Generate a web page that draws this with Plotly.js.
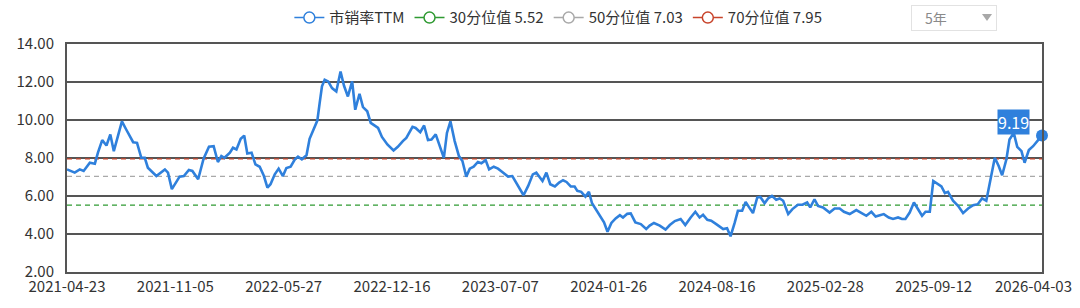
<!DOCTYPE html>
<html>
<head>
<meta charset="utf-8">
<script src="https://cdn.plot.ly/plotly-3.0.1.min.js"></script>
<style>
  html, body { margin: 0; padding: 0; background: #fff; }
  #wrap { position: relative; width: 1080px; height: 308px; }
  #chart { width: 1080px; height: 308px; }
  #sel { position: absolute; left: 911px; top: 5px; width: 86px; height: 26px; box-sizing: border-box;
         border: 1px solid #e2e2e2; background: #fff; font-family: "Noto Sans CJK SC", "Noto Sans", sans-serif;
         font-size: 14px; color: #8a8a8a; }
  #sel .t { position: absolute; left: 13px; top: 3px; line-height: 18px; }
  #sel .a { position: absolute; left: 70px; top: 8px; width: 0; height: 0;
            border-left: 5px solid transparent; border-right: 5px solid transparent; border-top: 7px solid #a8a8a8; }
</style>
</head>
<body>
<div id="wrap">
  <div id="chart"></div>
  <div id="sel"><span class="t">5年</span><span class="a"></span></div>
</div>
<script>
// Tick labels of the category axis (every 28th trading week)
const tickLabels = ['2021-04-23','2021-11-05','2022-05-27','2022-12-16','2023-07-07',
                    '2024-01-26','2024-08-16','2025-02-28','2025-09-12','2026-04-03'];
const tickStep = 28;

// Positions (week index on the category axis)
const weekPos = [0,2.0,3.3,4.3,5.9,7.2,8.0,9.1,10.2,11.2,12.1,14.2,15.3,17.1,18.1,19.2,20.1,20.9,23.1,25.3,26.1,27.1,29.1,30.2,31.5,32.4,33.9,35.3,36.7,37.9,39.0,39.9,40.7,42.1,
  42.9,43.8,44.9,45.8,46.6,47.7,48.7,49.8,50.9,51.8,52.6,53.7,54.7,55.8,56.7,57.8,58.9,59.7,60.7,61.9,62.7,63.8,64.7,65.3,65.9,66.6,67.5,68.5,69.6,70.7,71.6,72.6,73.7,74.5,75.6,76.5,77.6,78.5,80.4,81.4,82.8,
  84.4,85.5,86.8,87.7,89.3,90.1,91.3,92.3,93.3,94.2,95.3,96.2,97.4,98.2,99.1,100.2,101.3,102.2,103.2,104.1,105.1,106.2,107.1,108.2,109.1,110.3,111.4,112.5,114.0,115.1,116.6,118.0,119.2,120.4,121.3,122.9,123.9,124.9,126.1,127.2,
  128.2,129.1,130.2,131.2,131.9,132.9,134.0,134.9,135.7,137.3,138.8,139.7,140.7,141.8,142.9,143.7,144.8,145.7,146.9,148.3,149.7,150.6,151.7,153.2,154.7,155.8,157.1,158.6,159.8,161.2,162.4,163.5,164.4,165.5,166.5,167.8,168.9,
  169.6,170.6,171.5,172.6,173.4,174.5,175.4,176.3,177.3,178.4,179.2,180.3,181.2,182.2,183.3,184.2,185.1,186.4,187.5,188.9,190.1,191.3,192.1,193.2,194.1,195.4,197.1,198.4,199.7,200.8,202.3,204.0,205.6,206.6,207.9,209.0,210.1,211.1,
  212.4,213.5,214.8,215.8,216.7,217.8,218.9,220.0,221.0,221.9,223.0,223.9,225.0,226.0,226.9,227.7,229.0,230.3,231.6,232.9,234.2,235.4,236.5,237.6,238.7,239.8,240.8,241.7,242.8,243.6,244.7,245.6,246.7,247.5,248.6,249.7,252];

// 市销率TTM values
const psTTM = [7.40,7.23,7.40,7.32,7.75,7.70,8.28,8.94,8.66,9.24,8.36,9.93,9.50,8.83,8.80,8.01,8.01,7.49,7.05,7.40,7.23,6.36,7.02,7.05,7.37,7.32,6.88,7.96,8.59,8.62,7.79,8.10,8.01,8.28,
  8.54,8.45,9.01,9.18,8.24,8.28,7.66,7.54,7.05,6.44,6.62,7.14,7.44,7.05,7.47,7.54,7.93,8.07,7.93,8.14,9.01,9.50,9.97,10.89,11.77,12.12,12.03,11.68,11.50,12.55,11.80,11.24,12.03,10.54,11.38,10.68,10.46,9.85,9.58,9.11,8.71,
  8.40,8.59,8.89,9.06,9.64,9.58,9.36,9.71,8.94,8.97,9.24,8.71,8.01,9.32,9.93,8.89,8.10,7.84,7.02,7.44,7.54,7.79,7.72,7.89,7.40,7.54,7.44,7.26,7.02,7.05,6.53,6.04,6.53,7.14,7.23,6.79,7.23,6.62,6.50,6.71,
  6.83,6.74,6.50,6.50,6.27,6.22,5.97,6.22,5.62,5.13,4.61,4.12,4.58,4.82,4.99,4.87,5.06,5.08,4.61,4.52,4.26,4.44,4.58,4.44,4.23,4.47,4.68,4.79,4.47,4.87,5.17,4.87,5.01,4.75,4.70,4.52,4.35,
  4.26,4.30,3.88,4.61,5.22,5.22,5.69,5.40,5.10,5.92,5.95,5.62,5.87,6.01,5.80,5.87,5.75,5.05,5.31,5.54,5.54,5.66,5.40,5.83,5.48,5.40,5.13,5.34,5.34,5.17,5.05,5.26,5.05,4.96,5.17,4.92,4.99,5.05,
  4.87,4.79,4.87,4.79,4.79,5.13,5.66,5.27,4.96,5.17,5.17,6.79,6.62,6.50,6.15,6.22,5.75,5.48,5.10,5.34,5.52,5.57,5.87,5.75,6.88,8.01,7.58,7.09,7.93,8.97,9.32,8.59,8.36,7.75,8.42,8.62,9.19];

// Percentile levels
const pctNames = ['30分位值 5.52','50分位值 7.03','70分位值 7.95'];
const pctValues = [5.52, 7.03, 7.95];
const pctColors = ['#2f9a32','#a9a9a9','#c8442b'];
const mainName = '市销率TTM';
const mainColor = '#2f80dc';
const latestLabel = '9.19';

const xMax = (tickLabels.length - 1) * tickStep;
const tickVals = tickLabels.map((_, k) => k * tickStep);
const font = '"Noto Sans CJK SC", "Noto Sans", sans-serif';
const fs = 15;

const traces = [];
// percentile dashed lines
pctValues.forEach((v, k) => {
  traces.push({x: [0, xMax], y: [v, v], mode: 'lines', showlegend: false, hoverinfo: 'skip',
               line: {color: pctColors[k], width: 1.3, dash: '5px,4px'}});
});
// main line
traces.push({x: weekPos, y: psTTM, mode: 'lines', name: mainName, showlegend: false,
             line: {color: mainColor, width: 2.6}});
// latest point dot
traces.push({x: [weekPos[weekPos.length-1]], y: [psTTM[psTTM.length-1]], mode: 'markers', showlegend: false,
             marker: {color: mainColor, size: 12}, cliponaxis: false});
// legend proxies
const legNames = [mainName].concat(pctNames);
const legColors = [mainColor].concat(pctColors);
legNames.forEach((n, k) => {
  traces.push({x: [null], y: [null], mode: 'lines+markers', name: n, showlegend: true,
               line: {color: legColors[k], width: 1.5},
               marker: {symbol: 'circle', size: 11, color: '#fff', line: {color: legColors[k], width: 1.5}}});
});

// peak index for the value label
let peakK = weekPos.length - 1;
for (let k = weekPos.length - 1; k > weekPos.length - 12; k--) { if (psTTM[k] > psTTM[peakK]) peakK = k; }

const layout = {
  width: 1080, height: 308,
  margin: {l: 67, r: 38, t: 44, b: 36, autoexpand: false},
  paper_bgcolor: '#fff', plot_bgcolor: '#fff',
  font: {family: font, size: fs, color: '#333'},
  showlegend: true,
  legend: {orientation: 'h', xref: 'container', yref: 'container', x: 0.517, xanchor: 'center', y: 0.942, yanchor: 'middle',
           font: {family: font, size: fs, color: '#333'}, itemclick: false, tracegroupgap: 0},
  xaxis: {type: 'linear', range: [0, xMax], tickmode: 'array', tickvals: tickVals.slice(0, -1),
          ticktext: tickLabels.slice(0, -1), showgrid: false, zeroline: false,
          showline: true, linecolor: '#555', linewidth: 2, mirror: true, ticks: '',
          tickfont: {family: font, size: fs, color: '#333'}},
  yaxis: {range: [2, 14], dtick: 2, tick0: 2, tickformat: '.2f', showgrid: true, gridcolor: '#555', gridwidth: 2,
          zeroline: false, showline: true, linecolor: '#555', linewidth: 2, mirror: true, ticks: '',
          ticklabelstandoff: 8, tickfont: {family: font, size: fs, color: '#333'}},
  annotations: [
    {x: xMax, xref: 'x', y: 0, yref: 'paper', text: tickLabels[tickLabels.length-1], showarrow: false,
     xanchor: 'center', yanchor: 'top', xshift: -9, yshift: -1, font: {family: font, size: fs, color: '#333'}},
    {x: weekPos[peakK], xref: 'x', y: psTTM[peakK], yref: 'y', text: latestLabel, showarrow: false,
     xanchor: 'center', yanchor: 'bottom', yshift: -2, bgcolor: mainColor, borderpad: 0,
     font: {family: font, size: 16, color: '#fff'}}
  ]
};

Plotly.newPlot('chart', traces, layout, {displayModeBar: false, staticPlot: true});
</script>
</body>
</html>
